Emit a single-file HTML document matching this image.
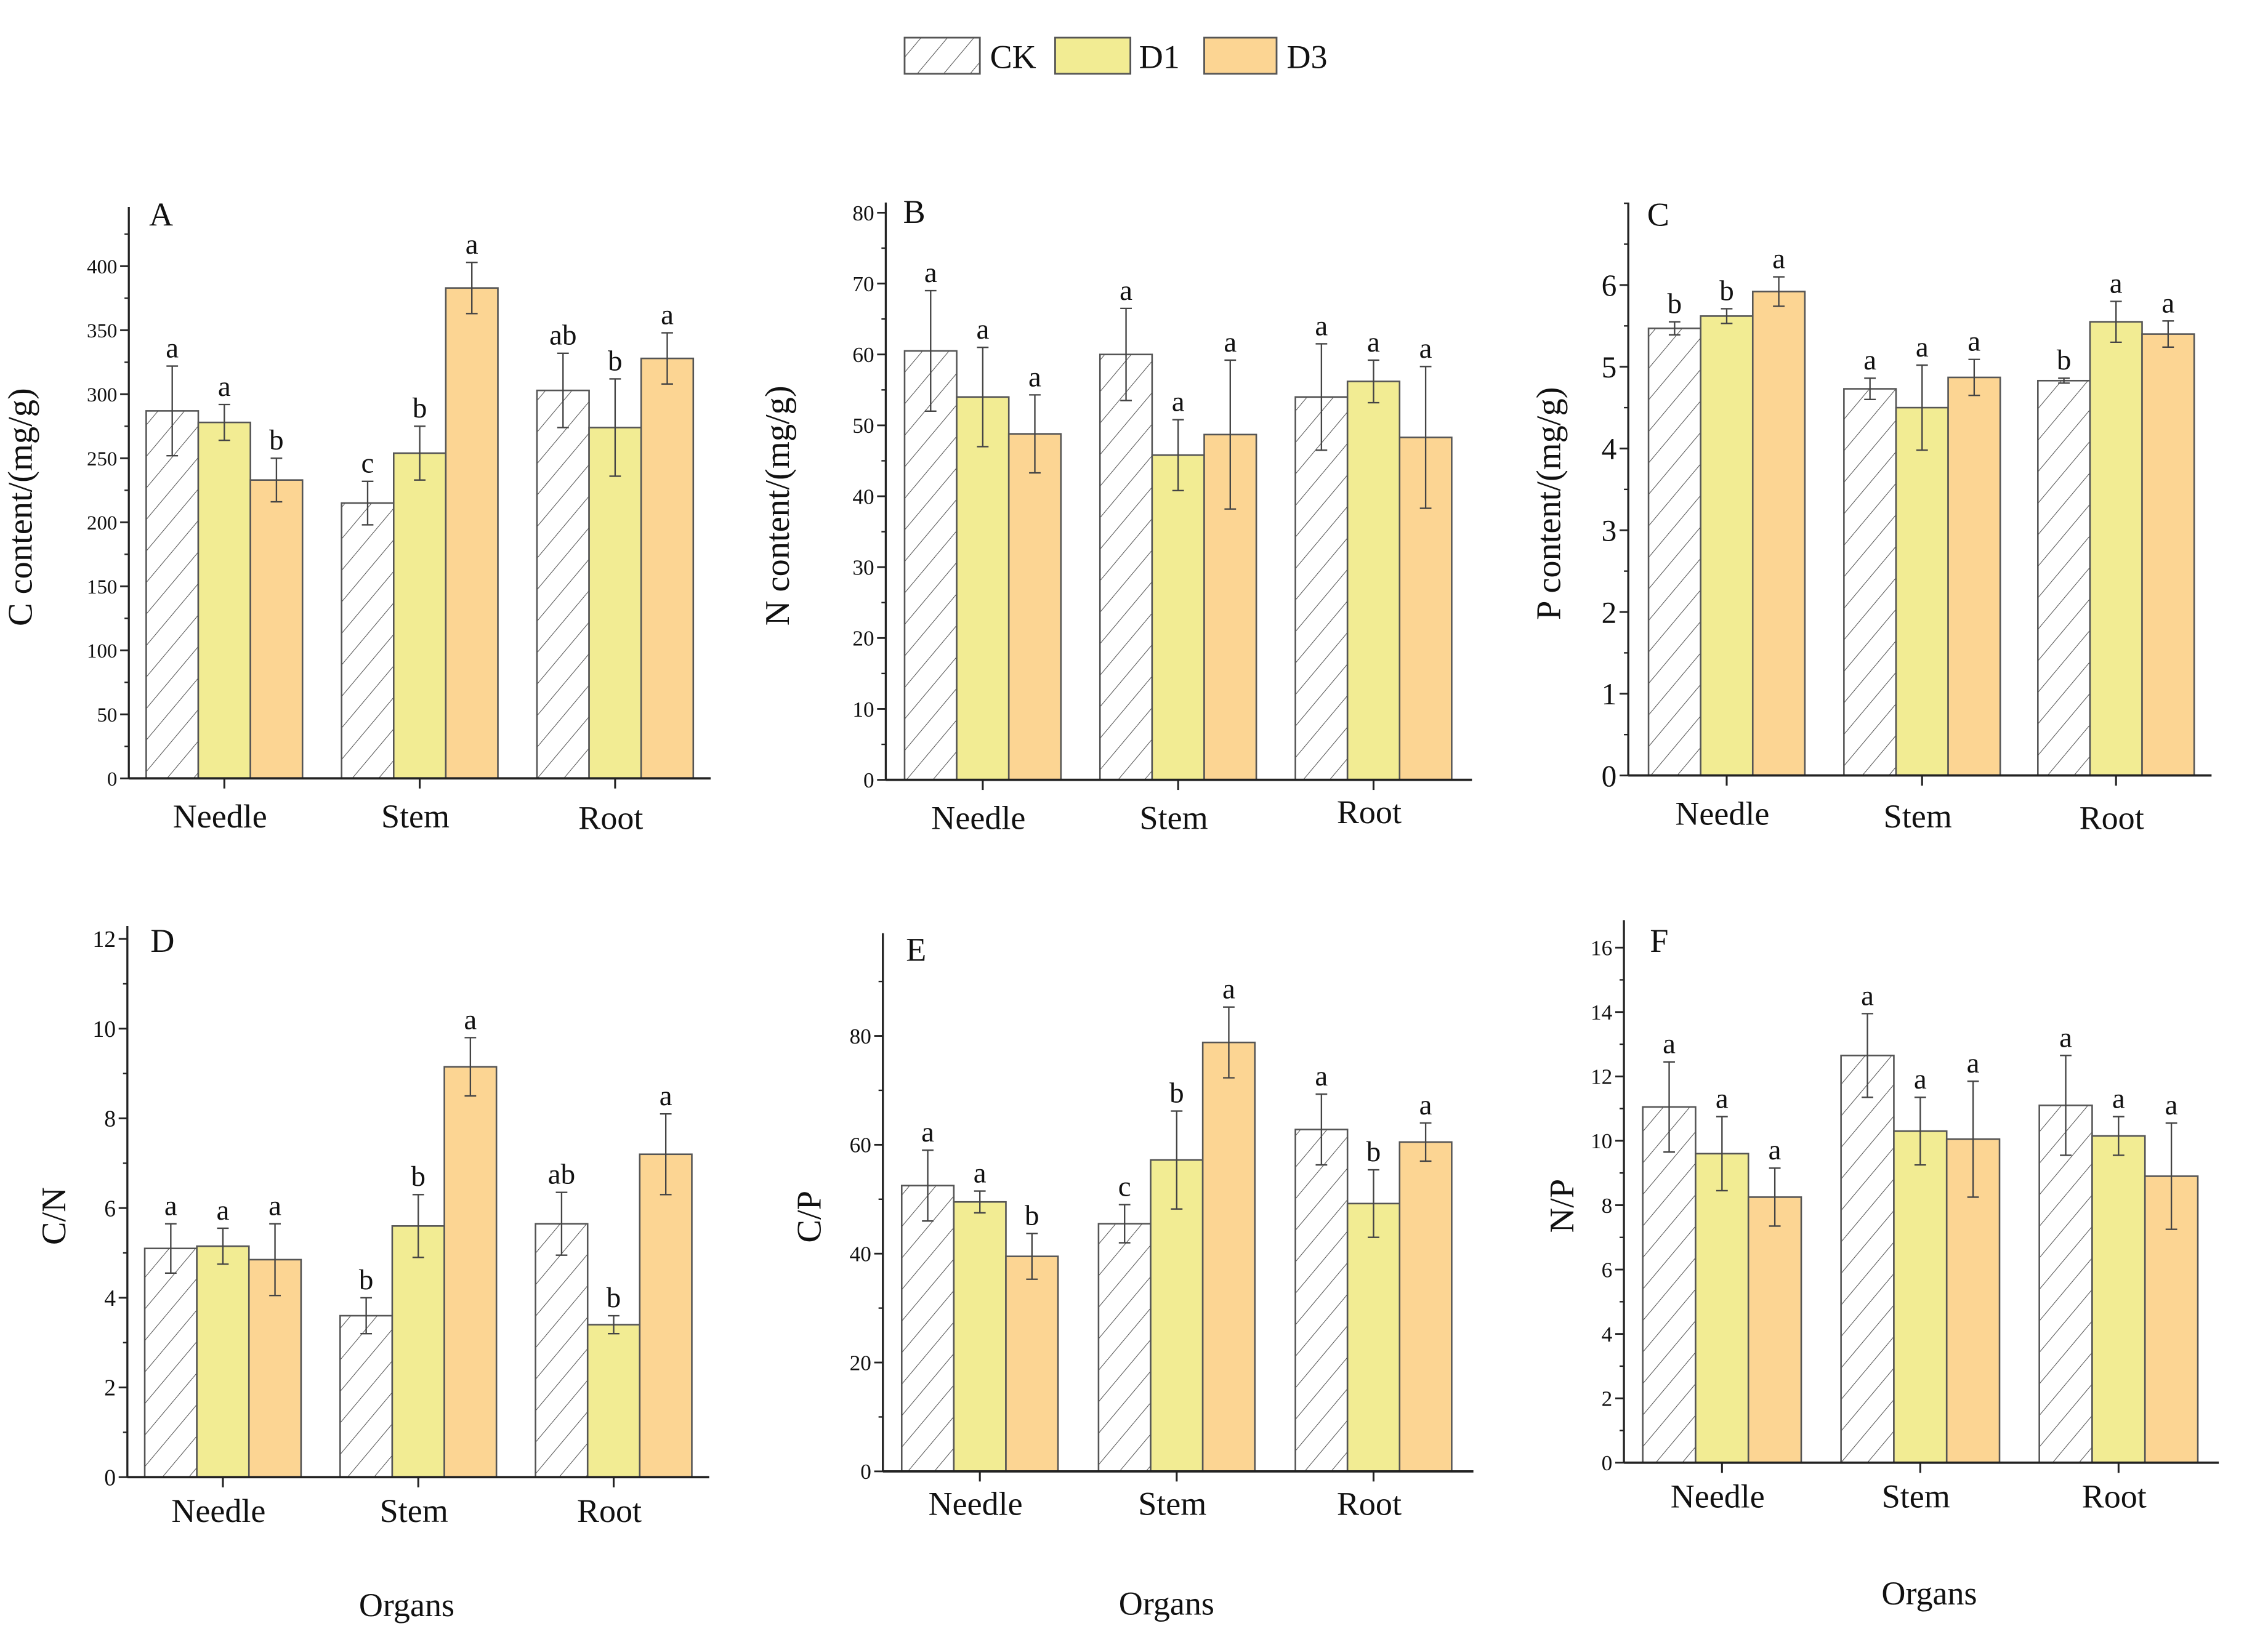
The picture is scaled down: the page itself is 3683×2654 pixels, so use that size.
<!DOCTYPE html>
<html><head><meta charset="utf-8">
<style>
html,body{margin:0;padding:0;background:#fff;}
svg{display:block;}
svg text{font-family:"Liberation Serif","Times New Roman","DejaVu Serif",serif;fill:#111;}
</style></head>
<body>
<svg id="fig" width="3683" height="2654" viewBox="0 0 1567 1129.4" preserveAspectRatio="none" xmlns="http://www.w3.org/2000/svg" font-family="Liberation Serif, Times New Roman, DejaVu Serif, serif" style="font-family:'Liberation Serif','Times New Roman','DejaVu Serif',serif">
<defs>
<pattern id="hatch" patternUnits="userSpaceOnUse" width="14" height="14" patternTransform="rotate(40)">
<rect width="14" height="14" fill="#fff"/>
<line x1="0" y1="0" x2="0" y2="14" stroke="#555" stroke-width="0.9"/>
</pattern>
</defs>
<g>
<rect x="625" y="26" width="52" height="25" fill="url(#hatch)" stroke="#555" stroke-width="1.2"/>
<text x="684" y="47" font-size="23">CK</text>
<rect x="729" y="26" width="52" height="25" fill="#f2ec93" stroke="#555" stroke-width="1.2"/>
<text x="787" y="47" font-size="23">D1</text>
<rect x="832" y="26" width="50" height="25" fill="#fcd593" stroke="#555" stroke-width="1.2"/>
<text x="889" y="47" font-size="23">D3</text>
</g>
</svg>
<script>
const categories = ["Needle","Stem","Root"];
// Panel A: C content
const ckA = [287,215,303], d1A = [278,254,274], d3A = [233,383,328];
const ckErrA = [35,17,29], d1ErrA = [14,21,38], d3ErrA = [17,20,20];
const lettersA = [["a","a","b"],["c","b","a"],["ab","b","a"]];
const ticksA = [0,50,100,150,200,250,300,350,400];
// Panel B: N content
const ckB = [60.5,60,54], d1B = [54,45.8,56.2], d3B = [48.8,48.7,48.3];
const ckErrB = [8.5,6.5,7.5], d1ErrB = [7,5,3], d3ErrB = [5.5,10.5,10];
const lettersB = [["a","a","a"],["a","a","a"],["a","a","a"]];
const ticksB = [0,10,20,30,40,50,60,70,80];
// Panel C: P content
const ckC = [5.47,4.73,4.83], d1C = [5.62,4.5,5.55], d3C = [5.92,4.87,5.4];
const ckErrC = [0.08,0.13,0.03], d1ErrC = [0.09,0.52,0.25], d3ErrC = [0.18,0.22,0.16];
const lettersC = [["b","b","a"],["a","a","a"],["b","a","a"]];
const ticksC = [0,1,2,3,4,5,6];
// Panel D: C/N
const ckD = [5.1,3.6,5.65], d1D = [5.15,5.6,3.4], d3D = [4.85,9.15,7.2];
const ckErrD = [0.55,0.4,0.7], d1ErrD = [0.4,0.7,0.2], d3ErrD = [0.8,0.65,0.9];
const lettersD = [["a","a","a"],["b","b","a"],["ab","b","a"]];
const ticksD = [0,2,4,6,8,10,12];
// Panel E: C/P
const ckE = [52.5,45.5,62.8], d1E = [49.5,57.2,49.2], d3E = [39.5,78.8,60.5];
const ckErrE = [6.5,3.5,6.5], d1ErrE = [2,9,6.2], d3ErrE = [4.2,6.5,3.5];
const lettersE = [["a","a","b"],["c","b","a"],["a","b","a"]];
const ticksE = [0,20,40,60,80];
// Panel F: N/P
const ckF = [11.05,12.65,11.1], d1F = [9.6,10.3,10.15], d3F = [8.25,10.05,8.9];
const ckErrF = [1.4,1.3,1.55], d1ErrF = [1.15,1.05,0.6], d3ErrF = [0.9,1.8,1.65];
const lettersF = [["a","a","a"],["a","a","a"],["a","a","a"]];
const ticksF = [0,2,4,6,8,10,12,14,16];

const NS="http://www.w3.org/2000/svg";
const svg=document.getElementById('fig');
function mk(tag,attrs,parent){const e=document.createElementNS(NS,tag);for(const k in attrs)e.setAttribute(k,attrs[k]);(parent||svg).appendChild(e);return e;}

const panels=[
 {id:"a",letter:"A",ax:89,base:538,top:143,right:491,v0:0,vTop:400,yTop:184,ticks:ticksA,minor:25,starts:[101,236,371],bw:36,
  series:[ckA,d1A,d3A],errs:[ckErrA,d1ErrA,d3ErrA],letters:lettersA,tfs:14,ylab:"C content/(mg/g)",ylx:22,lx:103,ly:156,caty:[572,572,573],organs:null},
 {id:"b",letter:"B",ax:612,base:539,top:140,right:1017,v0:0,vTop:80,yTop:147,ticks:ticksB,minor:5,starts:[625,760,895],bw:36,
  series:[ckB,d1B,d3B],errs:[ckErrB,d1ErrB,d3ErrB],letters:lettersB,tfs:15,ylab:"N content/(mg/g)",ylx:545,lx:624,ly:154,caty:[573,573,569],organs:null},
 {id:"c",letter:"C",ax:1125,base:536,top:140,right:1528,v0:0,vTop:6,yTop:197,ticks:ticksC,minor:0.5,starts:[1139,1274,1408],bw:36,
  series:[ckC,d1C,d3C],errs:[ckErrC,d1ErrC,d3ErrC],letters:lettersC,tfs:21,ylab:"P content/(mg/g)",ylx:1078,lx:1138,ly:156,caty:[570,572,573],organs:null},
 {id:"d",letter:"D",ax:88,base:1021,top:640,right:490,v0:0,vTop:12,yTop:649,ticks:ticksD,minor:1,starts:[100,235,370],bw:36,
  series:[ckD,d1D,d3D],errs:[ckErrD,d1ErrD,d3ErrD],letters:lettersD,tfs:16,ylab:"C/N",ylx:45,lx:104,ly:658,caty:[1052,1052,1052],organs:[281,1117]},
 {id:"e",letter:"E",ax:610,base:1017,top:645,right:1018,v0:0,vTop:80,yTop:716,ticks:ticksE,minor:10,starts:[623,759,895],bw:36,
  series:[ckE,d1E,d3E],errs:[ckErrE,d1ErrE,d3ErrE],letters:lettersE,tfs:15,ylab:"C/P",ylx:567,lx:626,ly:664,caty:[1047,1047,1047],organs:[806,1116]},
 {id:"f",letter:"F",ax:1122,base:1011,top:636,right:1533,v0:0,vTop:16,yTop:655,ticks:ticksF,minor:1,starts:[1135,1272,1409],bw:36.5,
  series:[ckF,d1F,d3F],errs:[ckErrF,d1ErrF,d3ErrF],letters:lettersF,tfs:15,ylab:"N/P",ylx:1087,lx:1140,ly:658,caty:[1042,1042,1042],organs:[1333,1109]}
];
const fills=["url(#hatch)","#f2ec93","#fcd593"];
const sNames=["ck","d1","d3"];

panels.forEach(p=>{
 const g=mk('g',{});
 
 
 const y=v=>p.base-(v-p.v0)/(p.vTop-p.v0)*(p.base-p.yTop);
 categories.forEach((c,ci)=>{
  for(let s=0;s<3;s++){
   const v=p.series[s][ci], e=p.errs[s][ci];
   const x=p.starts[ci]+s*p.bw, cx=x+p.bw/2;
   const r=mk('rect',{x:x,y:y(v),width:p.bw,height:p.base-y(v),fill:fills[s],stroke:'#555','stroke-width':1.1},g);
   
   
   const eb=mk('path',{d:`M${cx} ${y(v+e)}V${y(v-e)}M${cx-4} ${y(v+e)}H${cx+4}M${cx-4} ${y(v-e)}H${cx+4}`,stroke:'#444','stroke-width':1,fill:'none'},g);
   
   
   const t=mk('text',{x:cx,y:y(v+e)-6,'font-size':20,'text-anchor':'middle'},g);
   t.textContent=p.letters[ci][s];
   
   
  }
  const cx=p.starts[ci]+1.5*p.bw;
  mk('line',{x1:cx,x2:cx,y1:p.base,y2:p.base+7,stroke:'#222','stroke-width':1.3},g);
  const ct=mk('text',{x:cx-3,y:p.caty[ci],'font-size':23,'text-anchor':'middle'},g);
  ct.textContent=c;
  
  
 });
 const ya=mk('line',{x1:p.ax,x2:p.ax,y1:p.top,y2:p.base,stroke:'#222','stroke-width':1.4},g);
 
 
 const xa=mk('line',{x1:p.ax,x2:p.right,y1:p.base,y2:p.base,stroke:'#222','stroke-width':1.6},g);
 
 
 for(let v=p.v0;y(v)>=p.top;v+=p.minor){
  mk('line',{x1:p.ax-3,x2:p.ax,y1:y(v),y2:y(v),stroke:'#222','stroke-width':1},g);
 }
 p.ticks.forEach(v=>{
  mk('line',{x1:p.ax-6,x2:p.ax,y1:y(v),y2:y(v),stroke:'#222','stroke-width':1.2},g);
  const t=mk('text',{x:p.ax-8,y:y(v)+p.tfs*0.35,'font-size':p.tfs,'text-anchor':'end'},g);
  t.textContent=v;
  
  
 });
 const yl=mk('text',{x:p.ylx,y:(p.top+p.base)/2+10,'font-size':24,'text-anchor':'middle',transform:`rotate(-90 ${p.ylx} ${(p.top+p.base)/2+10})`},g);
 yl.textContent=p.ylab;
 
 
 const pl=mk('text',{x:p.lx,y:p.ly,'font-size':23},g);
 pl.textContent=p.letter;
 
 
 if(p.organs){
  const o=mk('text',{x:p.organs[0],y:p.organs[1],'font-size':23,'text-anchor':'middle'},g);
  o.textContent="Organs";
  
  
 }
});
</script>
</body></html>
